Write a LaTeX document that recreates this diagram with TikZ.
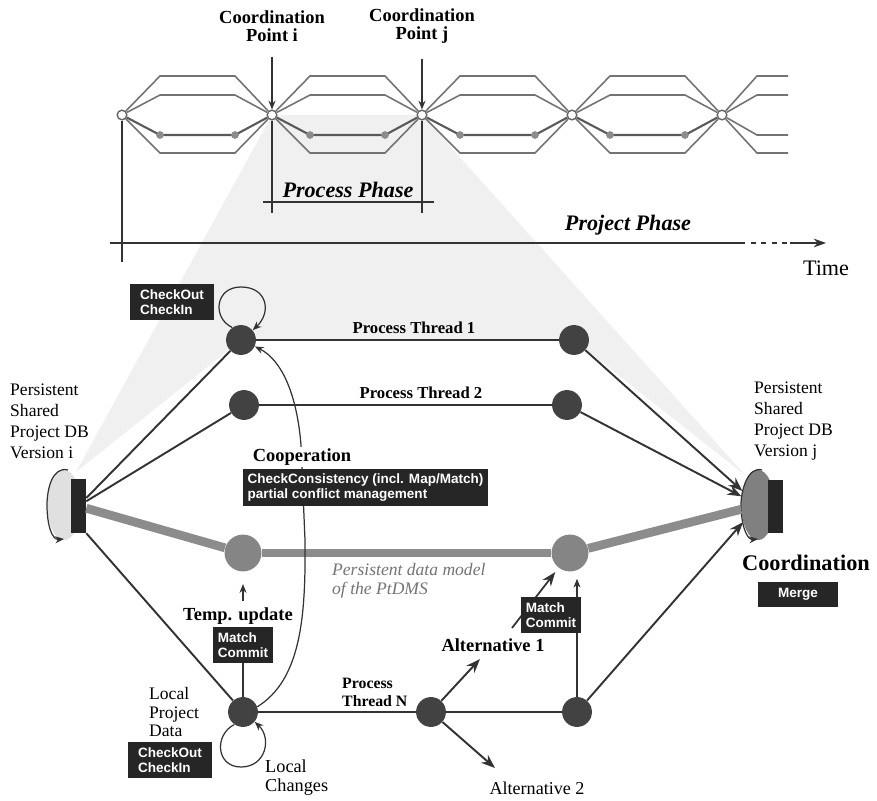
\documentclass[tikz,border=0pt]{standalone}
\usepackage{fontspec}
\setmainfont{Liberation Serif}
\setsansfont{Liberation Sans}
\usetikzlibrary{arrows.meta,shapes.geometric,backgrounds}

\tikzset{
  lens/.style={draw=black!55, line width=0.9pt},
  cpt/.style={circle, draw=black!60, fill=white, line width=0.8pt, inner sep=0pt, minimum size=5.5pt},
  thr/.style={circle, fill=black!74, inner sep=0pt, minimum size=17pt},
  pdmnode/.style={circle, fill=black!48, inner sep=0pt, minimum size=21pt},
  link/.style={draw=black!80, line width=1.1pt},
  arr/.style={link, -{Stealth[length=8pt,width=6pt]}},
  thinarr/.style={draw=black!80, line width=0.7pt, -{Stealth[length=5pt,width=4pt]}},
  pdm/.style={draw=black!45, line width=5pt},
  dbrect/.style={fill=black!85, minimum width=8.5pt, minimum height=30.6pt, inner sep=0pt},
  dbell/.style={ellipse, minimum width=19pt, minimum height=40pt, inner sep=0pt},
  opbox/.style={fill=black!85, text=white, font=\sffamily\bfseries\fontsize{7.7}{8.6}\selectfont,
    align=left, inner sep=2pt},
  lbl/.style={font=\bfseries\fontsize{10.5}{10.5}\selectfont, align=center},
  thrlbl/.style={font=\bfseries\fontsize{9.5}{10.3}\selectfont},
  txt/.style={font=\fontsize{10}{11.9}\selectfont, align=left},
  phase/.style={font=\bfseries\itshape\fontsize{12.6}{14}\selectfont},
  axis/.style={draw=black!80, line width=0.6pt},
}

\begin{document}
\begin{tikzpicture}[x=0.02cm, y=-0.02cm]
\useasboundingbox (0,0) rectangle (877,801);

% time line with the coordination points
\foreach \i in {0,...,4}
  \node[cpt] (cp\i) at (122+150*\i,115) {};
\foreach \i in {0,...,3}{
  \pgfmathtruncatemacro{\j}{\i+1}
  \pgfmathsetmacro{\xa}{160+150*\i}
  \pgfmathsetmacro{\xb}{235+150*\i}
  \foreach \y in {76,95,153}
    \draw[lens] (cp\i) -- (\xa,\y) -- (\xb,\y) -- (cp\j);
  \draw[lens, draw=black!65, line width=1.2pt] (cp\i) -- (\xa,135) -- (\xb,135) -- (cp\j);
  \fill[black!45] (\xa,135) circle[radius=2.2pt] (\xb,135) circle[radius=2.2pt];
}
\foreach \y in {76,95,135,153}
  \draw[lens] (cp4) -- (757,\y) -- (788,\y);

\node[lbl] (cpi) at (272,26) {Coordination\\Point i};
\node[lbl] (cpj) at (422,26) {Coordination\\Point j};
\draw[thinarr, shorten <=5pt] (cpi) -- (cp1);
\draw[thinarr, shorten <=5pt] (cpj) -- (cp2);

% phases
\coordinate (t0) at (110,243);
\coordinate (t1) at (740,243);
\coordinate (t2) at (790,243);
\coordinate (t3) at (826,243);
\draw[axis] (cp0) -- (122,262);
\draw[axis] (t0) -- (t1);
\draw[axis, dashed] (t1) -- (t2);
\draw[axis, -{Stealth[length=7pt,width=5pt]}] (t2) -- (t3);
\draw[axis] (cp1) -- (272,213);
\draw[axis] (cp2) -- (422,213);
\draw[axis] (263,202) -- (434,202);
\node[phase] (procph) at (348,190) {Process Phase};
\node[phase] (projph) at (628,225) {Project Phase};
\node[font=\fontsize{12.6}{14}\selectfont] (time) at (826,268) {Time};

% process threads
\node[thr] (t1l) at (241,340) {};
\node[thr] (t1r) at (574,340) {};
\node[thr] (t2l) at (244,405) {};
\node[thr] (t2r) at (567,405) {};
\node[pdmnode] (pdml) at (243,553) {};
\node[pdmnode] (pdmr) at (570,553) {};
\node[thr] (tnl) at (243,712) {};
\node[thr] (tnm) at (431,712) {};
\node[thr] (tnr) at (577,712) {};

% project DB versions
\node[dbell, fill=black!12] (dbiell) at (64,505) {};
\draw[thinarr] (68,470) .. controls (52,466) and (47,490) .. (47,505)
  .. controls (47,525) and (52,540) .. (64,539);
\node[dbrect] (dbi) at (78.5,506) {};
\node[dbell, fill=black!50] (dbjell) at (758,505) {};
\draw[thinarr] (762,470) .. controls (748,466) and (741,490) .. (741,505)
  .. controls (741,525) and (747,540) .. (758,539);
\node[dbrect] (dbj) at (775.5,506.5) {};

% zoom from the process phase
\begin{scope}[on background layer]
  \fill[black!6] (cp1.center) -- (cp2.center) -- (746,476) -- (t1r.center)
    -- (t1l.center) -- (76,472) -- cycle;
\end{scope}

\draw[link] (dbi) -- (t1l);
\draw[link] (dbi) -- (t2l);
\draw[pdm] (dbi) -- (pdml);
\draw[link] (dbi.south east) -- (tnl);
\draw[link] (t1l) -- (t1r);
\draw[link] (t2l) -- (t2r);
\draw[pdm] (pdml) -- (pdmr);
\draw[pdm] (pdmr) -- (dbjell);
\draw[link] (tnl) -- (tnm);
\draw[link] (tnm) -- (tnr);
\draw[arr] (t1r) -- (dbjell);
\draw[arr] (t2r) -- (dbjell);
\draw[arr] (tnr) -- (dbjell);

% alternatives
\coordinate (a1) at (480,659);
\coordinate (a2) at (495,768);
\draw[arr] (tnm) -- (a1);
\draw[arr] (tnm) -- (a2);
\node[lbl] (alt1) at (493,645) {Alternative 1};
\node[font=\fontsize{10.3}{12}\selectfont] (alt2) at (537,788) {Alternative 2};

% commit of thread N
\coordinate (mcfoot) at (512,628);
\draw[arr, line width=1pt, shorten >=3pt] (mcfoot) -- (pdmr);
\node[opbox, minimum width=34pt, minimum height=20.4pt] (mc2) at (551,615) {Match\\Commit};
\draw[link, line width=0.8pt] (tnr) -- (tnr |- mc2.south);
\draw[thinarr, shorten >=4pt] (mc2.north -| tnr) -- (pdmr.south -| tnr);

% temporary update of the local data
\node[opbox, minimum width=34pt, minimum height=20.4pt] (mc1) at (243,645) {Match\\Commit};
\draw[link, line width=0.8pt] (tnl) -- (mc1);
\node[lbl] (temp) at (238,616) {Temp. update};
\draw[thinarr, shorten >=7pt] (temp.north -| pdml) -- (pdml);

% cooperation between threads
\draw[thinarr] (tnl.20) .. controls (300,680) and (306,620) .. (305,540)
  -- (301,445) .. controls (297,395) and (282,360) .. (t1l.-25);
\node[opbox, minimum width=139pt, minimum height=21pt] (ccbox) at (365.5,487.5)
  {CheckConsistency (incl. Map/Match)\\partial conflict management};
\node[lbl, fill=white, inner sep=1pt] (coop) at (302,457) {Cooperation};
\node[font=\itshape\fontsize{10}{11}\selectfont, text=black!55, anchor=west, align=left]
  (pdmtxt) at (326,581) {Persistent data model\\of the PtDMS};

% check out / check in loops
\node[opbox, minimum width=47.6pt, minimum height=21pt] (cio1) at (172,302) {CheckOut\\CheckIn};
\draw[thinarr] (t1l.125) .. controls (212,318) and (215,287) .. (241,287)
  .. controls (267,287) and (272,312) .. (t1l.40);
\node[opbox, minimum width=47.6pt, minimum height=21pt] (cio2) at (170,760) {CheckOut\\CheckIn};
\draw[thinarr] (tnl.235) .. controls (214,735) and (216,767) .. (241,767)
  .. controls (266,767) and (272,738) .. (tnl.-40);

% labels
\node[thrlbl] (pt1) at (414,328) {Process Thread 1};
\node[thrlbl] (pt2) at (421,393) {Process Thread 2};
\node[thrlbl, anchor=west, align=left, font=\bfseries\fontsize{9}{10.3}\selectfont] (ptn) at (336,692) {Process\\Thread N};
\node[txt, anchor=west] (dbitxt) at (4,421) {Persistent\\Shared\\Project DB\\Version i};
\node[txt, anchor=west] (dbjtxt) at (748,421) {Persistent\\Shared\\Project DB\\Version j};
\node[txt, anchor=west, font=\fontsize{10}{10.3}\selectfont] (lpd) at (143,712) {Local\\Project\\Data};
\node[txt, anchor=west, font=\fontsize{10.4}{10.8}\selectfont] (lch) at (259,778) {Local\\Changes};
\node[font=\bfseries\fontsize{12.7}{14}\selectfont] (coord) at (806,563) {Coordination};
\node[opbox, minimum width=45pt, minimum height=14pt, align=center] (merge) at (798,594.5) {Merge};
\end{tikzpicture}
\end{document}
